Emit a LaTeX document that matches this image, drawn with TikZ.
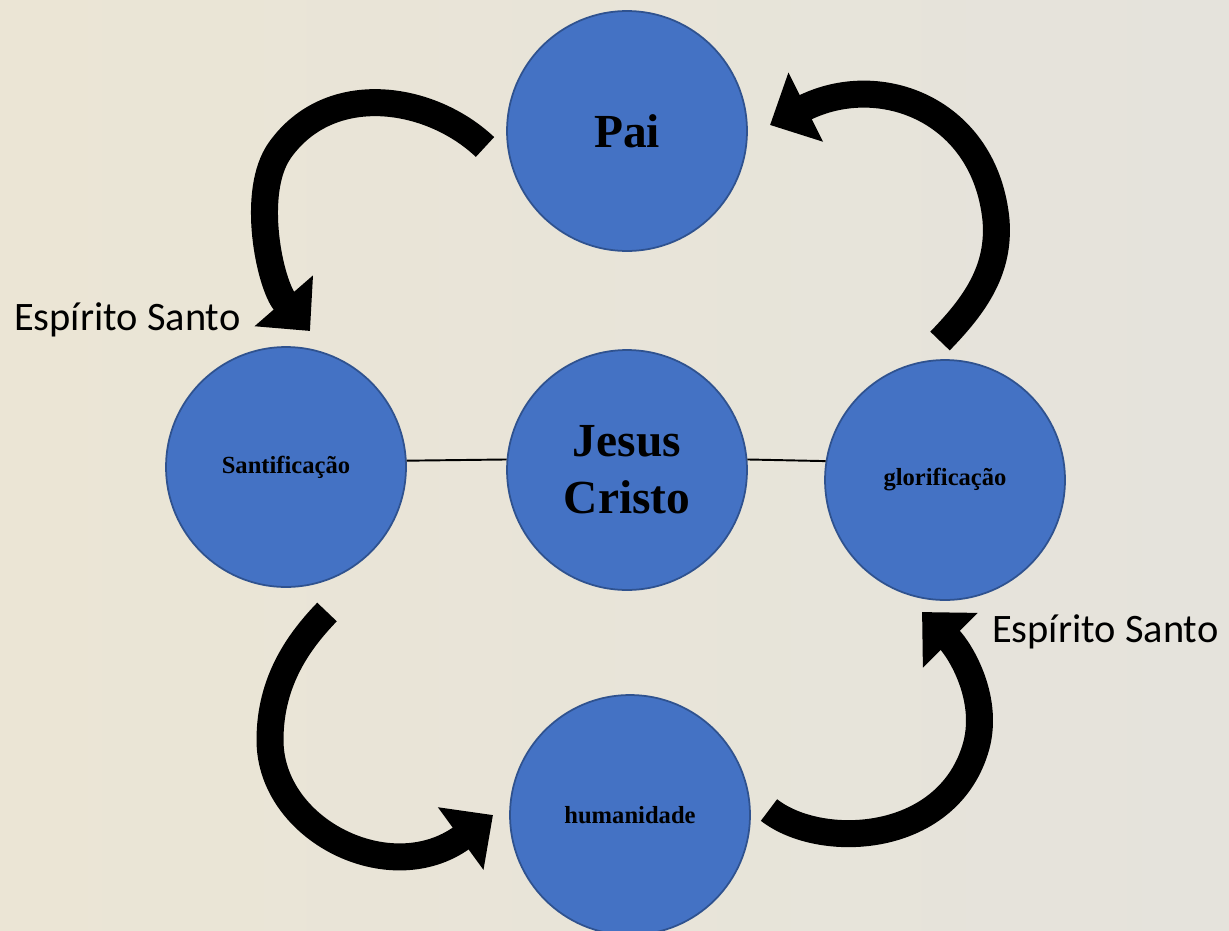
\documentclass[tikz,border=0pt]{standalone}
\usepackage{fontspec}
\setmainfont{Liberation Serif}
\newfontfamily\calibri{Carlito}
\usepackage{tikz}
\usetikzlibrary{arrows.meta}

\definecolor{bgleft}{RGB}{235,229,213}
\definecolor{bgright}{RGB}{229,227,220}
\definecolor{discfill}{RGB}{68,114,196}
\definecolor{discline}{RGB}{47,82,143}

\tikzset{
  disc/.style={circle,fill=discfill,draw=discline,line width=1pt,minimum size=4.8cm,inner sep=0pt,align=center},
  bigtext/.style={font=\fontsize{27}{32.4}\selectfont\bfseries},
  smalltext/.style={font=\fontsize{14}{16}\selectfont\bfseries},
  spirit/.style={font=\fontsize{23}{27}\selectfont\calibri},
  bendarrow/.style={line width=0.54cm,-{Triangle[length=0.8cm,width=1.5cm]}}
}

\begin{document}
\begin{tikzpicture}[x=0.02cm,y=-0.02cm]
  \clip (0,0) rectangle (1229,930);
  \shade[left color=bgleft,right color=bgright] (0,0) rectangle (1229,930);

  \draw (627,131) node[disc,bigtext] (pai) {Pai};
  \draw (627,470) node[disc,bigtext] (jesus) {Jesus\\Cristo};
  \draw (286,467) node[disc,smalltext] (sant) {Santificação};
  \draw (945,480) node[disc,smalltext] (glor) {glorificação};
  \draw (630,815) node[disc,smalltext] (hum) {humanidade};

  \draw (8,320) node[spirit,anchor=west] (esp1) {Espírito Santo};
  \draw (986,632) node[spirit,anchor=west] (esp2) {Espírito Santo};

  \path[-,line width=1.1pt] (sant.3) edge (jesus.175);
  \path[-,line width=1.1pt] (jesus.5) edge (glor.171);

  \coordinate (pai out) at (485,147);
  \coordinate (sant in) at (310,331);
  \coordinate (sant out) at (327,612);
  \coordinate (hum in) at (493,815);
  \coordinate (hum out) at (769,810);
  \coordinate (glor in) at (922,612);
  \coordinate (glor out) at (940,341);
  \coordinate (pai in) at (770,125);

  \draw[bendarrow] (pai out) .. controls (430,95) and (330,80) .. (280,150)
    .. controls (250,192) and (270,285) .. (sant in);
  \draw[bendarrow] (sant out) .. controls (300,640) and (270,680) .. (270,740)
    .. controls (270,830) and (390,890) .. (hum in);
  \draw[bendarrow] (hum out) .. controls (820,850) and (945,845) .. (975,750)
    .. controls (991,700) and (960,650) .. (glor in);
  \draw[bendarrow] (glor out) .. controls (975,305) and (1000,270) .. (996,220)
    .. controls (985,110) and (880,70) .. (pai in);
\end{tikzpicture}
\end{document}
